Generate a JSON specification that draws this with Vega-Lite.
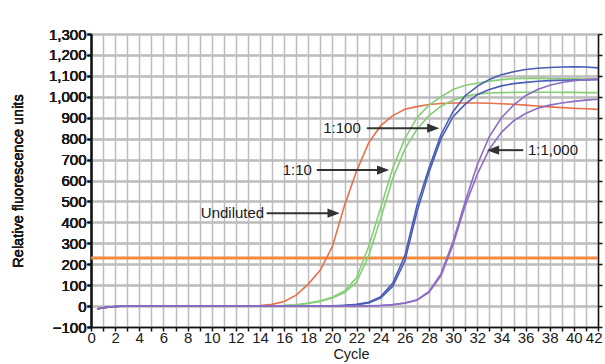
{
  "$schema": "https://vega.github.io/schema/vega-lite/v6.json",
  "width": 507,
  "height": 293,
  "autosize": {"type": "none"},
  "padding": {"left": 91, "top": 34, "right": 7, "bottom": 37},
  "background": "white",
  "config": {
    "view": {"stroke": null},
    "font": "Liberation Sans",
    "axis": {
      "domainColor": "#111111",
      "domainWidth": 1.5,
      "tickColor": "#111111",
      "tickWidth": 1.5,
      "tickSize": 4,
      "labelColor": "#1a1a1a",
      "labelFontSize": 15,
      "labelFontWeight": "normal",
      "titleColor": "#1a1a1a",
      "titleFontSize": 14.5,
      "titleFontWeight": "normal",
      "gridColor": "#bdbdbd",
      "gridWidth": 1.5,
      "gridOpacity": 1
    }
  },
  "datasets": {
    "thr": [{"c": 0, "v": 230}, {"c": 42, "v": 230}],
    "curves": [
      {"s": "U", "g": "U", "c": 0.5, "v": -14}, {"s": "U", "g": "U", "c": 1, "v": -8}, {"s": "U", "g": "U", "c": 2, "v": -2}, {"s": "U", "g": "U", "c": 3, "v": 0}, {"s": "U", "g": "U", "c": 13, "v": 0}, {"s": "U", "g": "U", "c": 14, "v": 2}, {"s": "U", "g": "U", "c": 15, "v": 8}, {"s": "U", "g": "U", "c": 16, "v": 22}, {"s": "U", "g": "U", "c": 17, "v": 52}, {"s": "U", "g": "U", "c": 18, "v": 105}, {"s": "U", "g": "U", "c": 19, "v": 172}, {"s": "U", "g": "U", "c": 20, "v": 285}, {"s": "U", "g": "U", "c": 21, "v": 480}, {"s": "U", "g": "U", "c": 22, "v": 645}, {"s": "U", "g": "U", "c": 23, "v": 780}, {"s": "U", "g": "U", "c": 24, "v": 862}, {"s": "U", "g": "U", "c": 25, "v": 910}, {"s": "U", "g": "U", "c": 26, "v": 940}, {"s": "U", "g": "U", "c": 27, "v": 953}, {"s": "U", "g": "U", "c": 28, "v": 963}, {"s": "U", "g": "U", "c": 29, "v": 968}, {"s": "U", "g": "U", "c": 30, "v": 970}, {"s": "U", "g": "U", "c": 31, "v": 970}, {"s": "U", "g": "U", "c": 32, "v": 970}, {"s": "U", "g": "U", "c": 33, "v": 969}, {"s": "U", "g": "U", "c": 34, "v": 967}, {"s": "U", "g": "U", "c": 35, "v": 964}, {"s": "U", "g": "U", "c": 36, "v": 960}, {"s": "U", "g": "U", "c": 37, "v": 956}, {"s": "U", "g": "U", "c": 38, "v": 952}, {"s": "U", "g": "U", "c": 39, "v": 948}, {"s": "U", "g": "U", "c": 40, "v": 945}, {"s": "U", "g": "U", "c": 41, "v": 943}, {"s": "U", "g": "U", "c": 42, "v": 940},

      {"s": "G1", "g": "G", "c": 0.5, "v": -14}, {"s": "G1", "g": "G", "c": 1, "v": -8}, {"s": "G1", "g": "G", "c": 2, "v": -2}, {"s": "G1", "g": "G", "c": 3, "v": 0}, {"s": "G1", "g": "G", "c": 15, "v": 0}, {"s": "G1", "g": "G", "c": 16, "v": 2}, {"s": "G1", "g": "G", "c": 17, "v": 6}, {"s": "G1", "g": "G", "c": 18, "v": 14}, {"s": "G1", "g": "G", "c": 19, "v": 25}, {"s": "G1", "g": "G", "c": 20, "v": 42}, {"s": "G1", "g": "G", "c": 21, "v": 72}, {"s": "G1", "g": "G", "c": 22, "v": 135}, {"s": "G1", "g": "G", "c": 23, "v": 285}, {"s": "G1", "g": "G", "c": 24, "v": 470}, {"s": "G1", "g": "G", "c": 25, "v": 660}, {"s": "G1", "g": "G", "c": 26, "v": 800}, {"s": "G1", "g": "G", "c": 27, "v": 900}, {"s": "G1", "g": "G", "c": 28, "v": 960}, {"s": "G1", "g": "G", "c": 29, "v": 1000}, {"s": "G1", "g": "G", "c": 30, "v": 1035}, {"s": "G1", "g": "G", "c": 31, "v": 1055}, {"s": "G1", "g": "G", "c": 32, "v": 1065}, {"s": "G1", "g": "G", "c": 33, "v": 1075}, {"s": "G1", "g": "G", "c": 34, "v": 1082}, {"s": "G1", "g": "G", "c": 35, "v": 1086}, {"s": "G1", "g": "G", "c": 36, "v": 1088}, {"s": "G1", "g": "G", "c": 37, "v": 1088}, {"s": "G1", "g": "G", "c": 38, "v": 1087}, {"s": "G1", "g": "G", "c": 39, "v": 1086}, {"s": "G1", "g": "G", "c": 40, "v": 1086}, {"s": "G1", "g": "G", "c": 41, "v": 1085}, {"s": "G1", "g": "G", "c": 42, "v": 1085},

      {"s": "G2", "g": "G", "c": 0.5, "v": -14}, {"s": "G2", "g": "G", "c": 1, "v": -8}, {"s": "G2", "g": "G", "c": 2, "v": -2}, {"s": "G2", "g": "G", "c": 3, "v": 0}, {"s": "G2", "g": "G", "c": 15, "v": 0}, {"s": "G2", "g": "G", "c": 16, "v": 2}, {"s": "G2", "g": "G", "c": 17, "v": 5}, {"s": "G2", "g": "G", "c": 18, "v": 12}, {"s": "G2", "g": "G", "c": 19, "v": 22}, {"s": "G2", "g": "G", "c": 20, "v": 38}, {"s": "G2", "g": "G", "c": 21, "v": 65}, {"s": "G2", "g": "G", "c": 22, "v": 115}, {"s": "G2", "g": "G", "c": 23, "v": 240}, {"s": "G2", "g": "G", "c": 24, "v": 420}, {"s": "G2", "g": "G", "c": 25, "v": 610}, {"s": "G2", "g": "G", "c": 26, "v": 750}, {"s": "G2", "g": "G", "c": 27, "v": 845}, {"s": "G2", "g": "G", "c": 28, "v": 910}, {"s": "G2", "g": "G", "c": 29, "v": 955}, {"s": "G2", "g": "G", "c": 30, "v": 985}, {"s": "G2", "g": "G", "c": 31, "v": 1002}, {"s": "G2", "g": "G", "c": 32, "v": 1013}, {"s": "G2", "g": "G", "c": 33, "v": 1018}, {"s": "G2", "g": "G", "c": 34, "v": 1020}, {"s": "G2", "g": "G", "c": 35, "v": 1021}, {"s": "G2", "g": "G", "c": 36, "v": 1022}, {"s": "G2", "g": "G", "c": 37, "v": 1022}, {"s": "G2", "g": "G", "c": 38, "v": 1022}, {"s": "G2", "g": "G", "c": 39, "v": 1021}, {"s": "G2", "g": "G", "c": 40, "v": 1021}, {"s": "G2", "g": "G", "c": 41, "v": 1020}, {"s": "G2", "g": "G", "c": 42, "v": 1020},

      {"s": "B1", "g": "B", "c": 0.5, "v": -14}, {"s": "B1", "g": "B", "c": 1, "v": -8}, {"s": "B1", "g": "B", "c": 2, "v": -2}, {"s": "B1", "g": "B", "c": 3, "v": 0}, {"s": "B1", "g": "B", "c": 19, "v": 0}, {"s": "B1", "g": "B", "c": 20, "v": 1}, {"s": "B1", "g": "B", "c": 21, "v": 4}, {"s": "B1", "g": "B", "c": 22, "v": 8}, {"s": "B1", "g": "B", "c": 23, "v": 18}, {"s": "B1", "g": "B", "c": 24, "v": 45}, {"s": "B1", "g": "B", "c": 25, "v": 110}, {"s": "B1", "g": "B", "c": 26, "v": 240}, {"s": "B1", "g": "B", "c": 27, "v": 480}, {"s": "B1", "g": "B", "c": 28, "v": 660}, {"s": "B1", "g": "B", "c": 29, "v": 820}, {"s": "B1", "g": "B", "c": 30, "v": 930}, {"s": "B1", "g": "B", "c": 31, "v": 1005}, {"s": "B1", "g": "B", "c": 32, "v": 1050}, {"s": "B1", "g": "B", "c": 33, "v": 1083}, {"s": "B1", "g": "B", "c": 34, "v": 1105}, {"s": "B1", "g": "B", "c": 35, "v": 1120}, {"s": "B1", "g": "B", "c": 36, "v": 1130}, {"s": "B1", "g": "B", "c": 37, "v": 1136}, {"s": "B1", "g": "B", "c": 38, "v": 1140}, {"s": "B1", "g": "B", "c": 39, "v": 1142}, {"s": "B1", "g": "B", "c": 40, "v": 1143}, {"s": "B1", "g": "B", "c": 41, "v": 1142}, {"s": "B1", "g": "B", "c": 42, "v": 1138},

      {"s": "B2", "g": "B", "c": 0.5, "v": -14}, {"s": "B2", "g": "B", "c": 1, "v": -8}, {"s": "B2", "g": "B", "c": 2, "v": -2}, {"s": "B2", "g": "B", "c": 3, "v": 0}, {"s": "B2", "g": "B", "c": 19, "v": 0}, {"s": "B2", "g": "B", "c": 20, "v": 1}, {"s": "B2", "g": "B", "c": 21, "v": 3}, {"s": "B2", "g": "B", "c": 22, "v": 7}, {"s": "B2", "g": "B", "c": 23, "v": 15}, {"s": "B2", "g": "B", "c": 24, "v": 38}, {"s": "B2", "g": "B", "c": 25, "v": 95}, {"s": "B2", "g": "B", "c": 26, "v": 215}, {"s": "B2", "g": "B", "c": 27, "v": 450}, {"s": "B2", "g": "B", "c": 28, "v": 640}, {"s": "B2", "g": "B", "c": 29, "v": 800}, {"s": "B2", "g": "B", "c": 30, "v": 905}, {"s": "B2", "g": "B", "c": 31, "v": 965}, {"s": "B2", "g": "B", "c": 32, "v": 1010}, {"s": "B2", "g": "B", "c": 33, "v": 1035}, {"s": "B2", "g": "B", "c": 34, "v": 1052}, {"s": "B2", "g": "B", "c": 35, "v": 1063}, {"s": "B2", "g": "B", "c": 36, "v": 1069}, {"s": "B2", "g": "B", "c": 37, "v": 1074}, {"s": "B2", "g": "B", "c": 38, "v": 1077}, {"s": "B2", "g": "B", "c": 39, "v": 1079}, {"s": "B2", "g": "B", "c": 40, "v": 1080}, {"s": "B2", "g": "B", "c": 41, "v": 1081}, {"s": "B2", "g": "B", "c": 42, "v": 1082},

      {"s": "P1", "g": "P", "c": 0.5, "v": -14}, {"s": "P1", "g": "P", "c": 1, "v": -8}, {"s": "P1", "g": "P", "c": 2, "v": -2}, {"s": "P1", "g": "P", "c": 3, "v": 0}, {"s": "P1", "g": "P", "c": 22, "v": 0}, {"s": "P1", "g": "P", "c": 23, "v": 1}, {"s": "P1", "g": "P", "c": 24, "v": 3}, {"s": "P1", "g": "P", "c": 25, "v": 7}, {"s": "P1", "g": "P", "c": 26, "v": 15}, {"s": "P1", "g": "P", "c": 27, "v": 30}, {"s": "P1", "g": "P", "c": 28, "v": 70}, {"s": "P1", "g": "P", "c": 29, "v": 155}, {"s": "P1", "g": "P", "c": 30, "v": 310}, {"s": "P1", "g": "P", "c": 31, "v": 500}, {"s": "P1", "g": "P", "c": 32, "v": 675}, {"s": "P1", "g": "P", "c": 33, "v": 810}, {"s": "P1", "g": "P", "c": 34, "v": 900}, {"s": "P1", "g": "P", "c": 35, "v": 960}, {"s": "P1", "g": "P", "c": 36, "v": 1005}, {"s": "P1", "g": "P", "c": 37, "v": 1035}, {"s": "P1", "g": "P", "c": 38, "v": 1055}, {"s": "P1", "g": "P", "c": 39, "v": 1068}, {"s": "P1", "g": "P", "c": 40, "v": 1077}, {"s": "P1", "g": "P", "c": 41, "v": 1082}, {"s": "P1", "g": "P", "c": 42, "v": 1085},

      {"s": "P2", "g": "P", "c": 0.5, "v": -14}, {"s": "P2", "g": "P", "c": 1, "v": -8}, {"s": "P2", "g": "P", "c": 2, "v": -2}, {"s": "P2", "g": "P", "c": 3, "v": 0}, {"s": "P2", "g": "P", "c": 22, "v": 0}, {"s": "P2", "g": "P", "c": 23, "v": 1}, {"s": "P2", "g": "P", "c": 24, "v": 3}, {"s": "P2", "g": "P", "c": 25, "v": 6}, {"s": "P2", "g": "P", "c": 26, "v": 14}, {"s": "P2", "g": "P", "c": 27, "v": 28}, {"s": "P2", "g": "P", "c": 28, "v": 65}, {"s": "P2", "g": "P", "c": 29, "v": 145}, {"s": "P2", "g": "P", "c": 30, "v": 295}, {"s": "P2", "g": "P", "c": 31, "v": 480}, {"s": "P2", "g": "P", "c": 32, "v": 630}, {"s": "P2", "g": "P", "c": 33, "v": 750}, {"s": "P2", "g": "P", "c": 34, "v": 830}, {"s": "P2", "g": "P", "c": 35, "v": 885}, {"s": "P2", "g": "P", "c": 36, "v": 920}, {"s": "P2", "g": "P", "c": 37, "v": 945}, {"s": "P2", "g": "P", "c": 38, "v": 960}, {"s": "P2", "g": "P", "c": 39, "v": 970}, {"s": "P2", "g": "P", "c": 40, "v": 978}, {"s": "P2", "g": "P", "c": 41, "v": 984}, {"s": "P2", "g": "P", "c": 42, "v": 988}
    ],
    "notes": [
      {"label": "Undiluted", "part": "line", "side": "r", "c": 14.55, "v": 444},
      {"label": "Undiluted", "part": "line", "side": "r", "c": 20.2, "v": 444},
      {"label": "Undiluted", "part": "head", "side": "r", "c": 20.1, "v": 444},
      {"label": "Undiluted", "part": "text", "side": "r", "c": 14.35, "v": 444},
      {"label": "1:10", "part": "line", "side": "r", "c": 18.7, "v": 650},
      {"label": "1:10", "part": "line", "side": "r", "c": 24.3, "v": 650},
      {"label": "1:10", "part": "head", "side": "r", "c": 24.2, "v": 650},
      {"label": "1:10", "part": "text", "side": "r", "c": 18.3, "v": 650},
      {"label": "1:100", "part": "line", "side": "r", "c": 22.85, "v": 850},
      {"label": "1:100", "part": "line", "side": "r", "c": 28.4, "v": 850},
      {"label": "1:100", "part": "head", "side": "r", "c": 28.35, "v": 850},
      {"label": "1:100", "part": "text", "side": "r", "c": 22.35, "v": 850},
      {"label": "1:1,000", "part": "line", "side": "l", "c": 33.3, "v": 745},
      {"label": "1:1,000", "part": "line", "side": "l", "c": 35.8, "v": 745},
      {"label": "1:1,000", "part": "head", "side": "l", "c": 33.3, "v": 745},
      {"label": "1:1,000", "part": "text", "side": "l", "c": 36.2, "v": 745}
    ]
  },
  "encoding": {
    "x": {
      "field": "c", "type": "quantitative",
      "scale": {"domain": [0, 42], "nice": false, "zero": false},
      "axis": {
        "tickCount": 42,
        "labelExpr": "datum.value % 2 == 0 ? datum.label : ''",
        "labelOverlap": false,
        "labelPadding": -1,
        "labelFlush": true,
        "labelFlushOffset": 4,
        "title": "Cycle",
        "titleX": 260,
        "titleY": 31,
        "titleBaseline": "alphabetic",
        "grid": true
      }
    },
    "y": {
      "field": "v", "type": "quantitative",
      "scale": {"domain": [-100, 1300], "nice": false, "zero": false},
      "axis": {
        "orient": "left",
        "tickCount": 14,
        "format": ",.0f",
        "labelPadding": 1,
        "title": "Relative fluorescence units",
        "titleX": -66,
        "grid": true
      }
    }
  },
  "layer": [
    {
      "data": {"name": "thr"},
      "mark": {"type": "line", "color": "#f28a3d", "strokeWidth": 3},
      "encoding": {
        "y": {
          "field": "v", "type": "quantitative",
          "scale": {"domain": [-100, 1300], "nice": false, "zero": false},
          "axis": {
            "orient": "right",
            "tickCount": 14,
            "labels": false,
            "grid": false,
            "title": null
          }
        }
      }
    },
    {
      "data": {"name": "curves"},
      "mark": {"type": "line", "strokeWidth": 1.6},
      "encoding": {
        "detail": {"field": "s"},
        "color": {
          "field": "g", "type": "nominal",
          "scale": {"domain": ["U", "G", "B", "P"], "range": ["#e9704a", "#86cf76", "#4a5db5", "#8c6cc4"]},
          "legend": null
        }
      }
    },
    {
      "data": {"name": "notes"},
      "transform": [{"filter": "datum.part == 'line'"}],
      "mark": {"type": "line", "color": "#333333", "strokeWidth": 2},
      "encoding": {
        "detail": {"field": "label"}
      }
    },
    {
      "data": {"name": "notes"},
      "transform": [{"filter": "datum.part == 'head'"}],
      "mark": {"type": "point", "filled": true, "opacity": 1, "color": "#333333", "size": 150},
      "encoding": {
        "shape": {
          "field": "side", "type": "nominal",
          "scale": {"domain": ["r", "l"], "range": ["M1,0L-1,-0.75L-1,0.75Z", "M-1,0L1,-0.75L1,0.75Z"]},
          "legend": null
        }
      }
    },
    {
      "data": {"name": "notes"},
      "transform": [{"filter": "datum.part == 'text' && datum.side == 'r'"}],
      "mark": {"type": "text", "align": "right", "baseline": "middle", "fontSize": 15, "color": "#1a1a1a"},
      "encoding": {
        "text": {"field": "label"}
      }
    },
    {
      "data": {"name": "notes"},
      "transform": [{"filter": "datum.part == 'text' && datum.side == 'l'"}],
      "mark": {"type": "text", "align": "left", "baseline": "middle", "fontSize": 15, "color": "#1a1a1a"},
      "encoding": {
        "text": {"field": "label"}
      }
    }
  ],
  "resolve": {"scale": {"y": "independent"}, "axis": {"y": "independent"}}
}
